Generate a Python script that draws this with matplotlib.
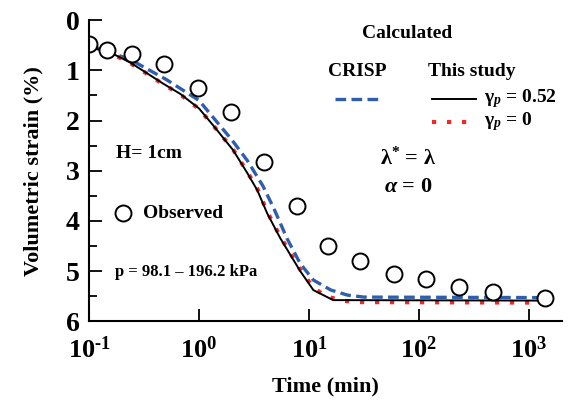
import numpy as np
import matplotlib
matplotlib.use('Agg')
from matplotlib import pyplot as plt

plt.rcParams['font.family'] = 'Liberation Serif'
plt.rcParams['font.weight'] = 'bold'
plt.rcParams['mathtext.fontset'] = 'custom'
plt.rcParams['mathtext.rm'] = 'Liberation Serif:bold'
plt.rcParams['mathtext.it'] = 'Liberation Serif:italic:bold'
plt.rcParams['mathtext.bf'] = 'Liberation Serif:bold'

# observed data
obs_t = [0.1, 0.146, 0.245, 0.48, 0.98, 1.95, 3.9, 7.8, 14.8, 29, 59, 117, 234, 468, 1400]
obs_e = [0.48, 0.60, 0.68, 0.88, 1.35, 1.83, 2.83, 3.70, 4.50, 4.80, 5.05, 5.16, 5.32, 5.42, 5.54]

# this study, gamma_p = 0.52 (log10 time)
blk_logt = [-1.0, -0.81, -0.63, -0.5, -0.33, -0.17, 0.0, 0.13, 0.31, 0.44, 0.53, 0.62, 0.74, 0.92, 1.04, 1.22, 3.15]
blk_e = [0.54, 0.64, 0.84, 1.02, 1.26, 1.47, 1.76, 2.10, 2.59, 3.05, 3.39, 3.85, 4.35, 5.00, 5.38, 5.58, 5.59]

# this study, gamma_p = 0
red_logt = [-1.0, -0.81, -0.63, -0.5, -0.33, -0.17, 0.0, 0.13, 0.31, 0.44, 0.53, 0.62, 0.74, 0.92, 1.04, 1.15, 1.3, 1.45, 3.15]
red_e = [0.55, 0.65, 0.85, 1.03, 1.27, 1.48, 1.77, 2.10, 2.58, 3.03, 3.36, 3.82, 4.32, 4.97, 5.33, 5.50, 5.59, 5.62, 5.63]

# CRISP
crisp_logt = [-1.0, -0.63, -0.3, 0.0, 0.3, 0.44, 0.58, 0.68, 0.8, 0.92, 1.04, 1.2, 1.35, 1.5, 3.15]
crisp_e = [0.50, 0.78, 1.18, 1.60, 2.39, 2.80, 3.30, 3.75, 4.35, 4.85, 5.18, 5.38, 5.48, 5.52, 5.53]

xtick_vals = [0.1, 1, 10, 100, 1000]
xtick_labels = ['10$^{\\text{-}1}$', '10$^{0}$', '10$^{1}$', '10$^{2}$', '10$^{3}$']

fig = plt.figure(figsize=(5.75, 4.04), dpi=100)
ax = fig.add_axes([0.155, 0.205, 0.822, 0.745])

ax.plot(10 ** np.array(crisp_logt), crisp_e, color='#2E5FAE', lw=2.4, dashes=(3.2, 1.6))
ax.plot(10 ** np.array(red_logt), red_e, color='#F02828', lw=3.0, dashes=(1.0, 2.6))
ax.plot(10 ** np.array(blk_logt), blk_e, color='black', lw=1.4)
ax.plot(obs_t, obs_e, 'o', mfc='white', mec='black', mew=1.4, ms=11.5, linestyle='none')

ax.set_xscale('log')
ax.set_xlim(0.1, 10 ** 3.3)
ax.set_ylim(6, 0)
ax.set_yticks([0, 1, 2, 3, 4, 5, 6])
ax.set_yticks(np.arange(0.5, 6, 1), minor=True)
ax.set_xticks(xtick_vals)
ax.set_xticklabels(xtick_labels)
ax.xaxis.set_minor_locator(matplotlib.ticker.NullLocator())

for s in ['top', 'right']:
    ax.spines[s].set_visible(False)
for s in ['left', 'bottom']:
    ax.spines[s].set_linewidth(1.5)

ax.tick_params(axis='both', which='major', direction='in', length=9, width=1.3, labelsize=20)
ax.tick_params(axis='x', which='major', pad=11, labelsize=19)
ax.tick_params(axis='y', which='major', pad=7)
ax.tick_params(axis='y', which='minor', direction='in', length=6, width=1.3)
ax.set_ylabel('Volumetric strain (%)', fontsize=16, fontweight='bold', labelpad=16)
ax.set_xlabel('Time (min)', fontsize=16, fontweight='bold', labelpad=10)

# annotations
tk = dict(fontsize=14, fontweight='bold', transform=fig.transFigure)
fig.text(407 / 575, 1 - 34 / 404, 'Calculated', ha='center', va='center', **tk)
fig.text(357 / 575, 1 - 72 / 404, 'CRISP', ha='center', va='center', **tk)
fig.text(472 / 575, 1 - 72 / 404, 'This study', ha='center', va='center', **tk)
fig.text(484 / 575, 1 - 99 / 404, '\u03b3$_{\\mathit{p}}$ = 0.52', ha='left', va='center', **tk)
fig.text(484 / 575, 1 - 122 / 404, '\u03b3$_{\\mathit{p}}$ = 0', ha='left', va='center', **tk)
fig.text(408 / 575, 1 - 158 / 404, '\u03bb$^{*}$ = \u03bb', ha='center', va='center', fontsize=16,
         fontweight='bold', transform=fig.transFigure)
fig.text(408 / 575, 1 - 187 / 404, r'$\alpha$ = 0', ha='center', va='center', fontsize=16,
         fontweight='bold', transform=fig.transFigure)
fig.text(116 / 575, 1 - 153 / 404, 'H= 1cm', ha='left', va='center', **tk)
fig.text(143 / 575, 1 - 213 / 404, 'Observed', ha='left', va='center', **tk)
fig.text(115 / 575, 1 - 272 / 404, 'p = 98.1 \u2013 196.2 kPa', ha='left', va='center', fontsize=12,
         fontweight='bold', transform=fig.transFigure)

# legend samples
fig.lines.append(plt.Line2D([335 / 575, 379 / 575], [1 - 99 / 404] * 2, color='#2E5FAE', lw=2.4,
                            dashes=(3.2, 1.6), transform=fig.transFigure))
fig.lines.append(plt.Line2D([432 / 575, 476 / 575], [1 - 99 / 404] * 2, color='black', lw=1.4,
                            transform=fig.transFigure))
fig.lines.append(plt.Line2D([432 / 575, 476 / 575], [1 - 122 / 404] * 2, color='#F02828', lw=3.0,
                            dashes=(1.0, 2.6), transform=fig.transFigure))
fig.lines.append(plt.Line2D([123 / 575], [1 - 213 / 404], marker='o', mfc='white', mec='black', mew=1.4,
                            ms=11.5, linestyle='none', transform=fig.transFigure))

fig.savefig('out.png', dpi=100)
